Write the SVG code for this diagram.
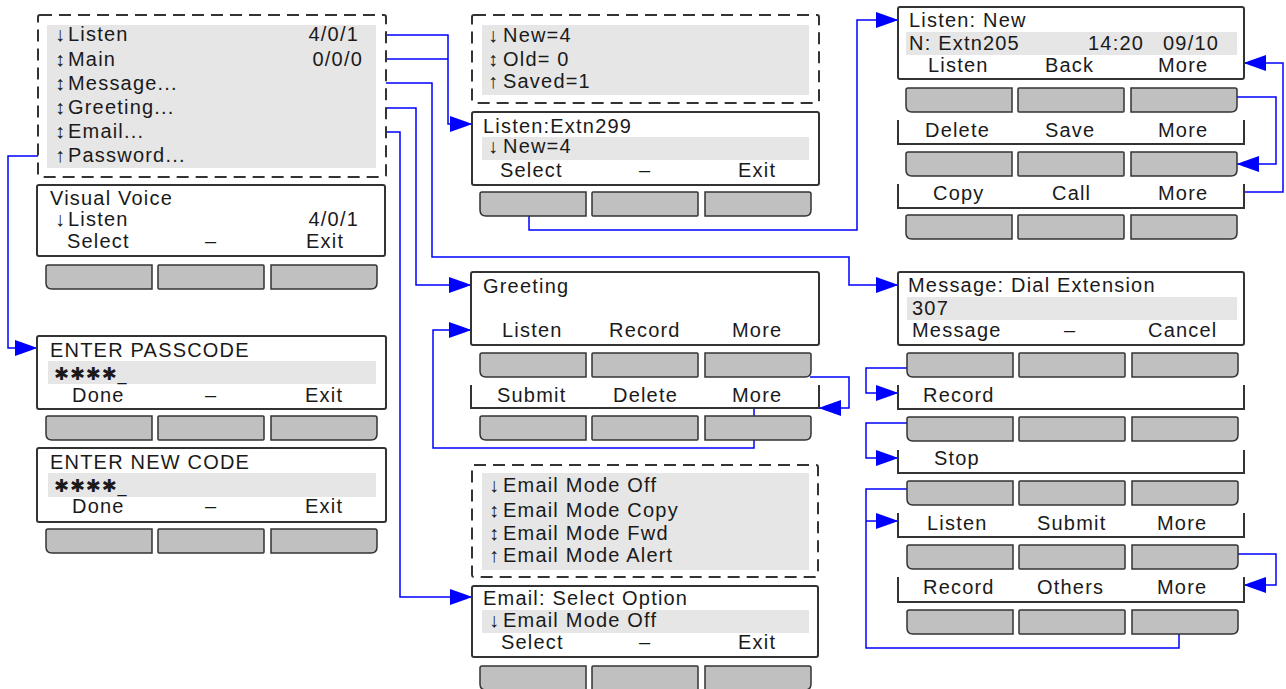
<svg xmlns="http://www.w3.org/2000/svg" xmlns:xlink="http://www.w3.org/1999/xlink" width="1286" height="689" viewBox="0 0 1286 689">
<defs>
<style>
.t{font-family:"Liberation Sans",Arial,"DejaVu Sans",sans-serif;font-size:20px;letter-spacing:1.2px;fill:#1a1a1a}
.st{font-family:"DejaVu Sans",sans-serif;font-size:18px;letter-spacing:0.8px;fill:#1a1a1a}
.scr{fill:#fff;stroke:#333;stroke-width:2}
.dash{fill:#fff;stroke:#333;stroke-width:2;stroke-dasharray:12 7}
.hl{fill:#e6e6e6;stroke:none}
.row{fill:none;stroke:#333;stroke-width:2}
.key{fill:#c0c0c0;stroke:#333;stroke-width:1.5}
.c{fill:none;stroke:#0000ff;stroke-width:1.5}
.ca{fill:none;stroke:#0000ff;stroke-width:1.5;marker-end:url(#arr)}
</style>
<marker id="arr" markerUnits="userSpaceOnUse" viewBox="0 0 22 16" markerWidth="22" markerHeight="16" refX="22" refY="8" orient="auto">
<path d="M0,0 L17,6 L22,8 L17,10 L0,16 Z" fill="#0000ff"/>
</marker>
<g id="keys">
<path class="key" d="M2,0 H106 V24 H6 Q0,24 0,18 V2 Q0,0 2,0 Z"/>
<rect class="key" x="112" y="0" width="106" height="24" rx="1"/>
<path class="key" d="M225,0 H329 Q331,0 331,2 V18 Q331,24 325,24 H225 Z"/>
</g>
</defs>
<rect width="1286" height="689" fill="#fff"/>

<g id="connectors">
<path class="ca" d="M376,35 H448 V124 H472"/>
<path class="c" d="M376,59 H448"/>
<path class="ca" d="M376,83 H432 V257 H849 V285 H898"/>
<path class="ca" d="M376,108 H416 V285 H471"/>
<path class="ca" d="M376,132 H400 V597 H472"/>
<path class="ca" d="M47,156 H8 V348 H37"/>
<path class="ca" d="M529,215 V230 H857 V20 H898"/>
<path class="ca" d="M1237,97 H1276 V164 H1237"/>
<path class="ca" d="M1244,192 H1283 V63 H1244"/>
<path class="ca" d="M810,377 H849 V408 H819"/>
<path class="ca" d="M754,408 V448 H433 V330 H471"/>
<path class="ca" d="M907,368 H866 V393 H898"/>
<path class="ca" d="M907,423 H866 V458 H898"/>
<path class="c" d="M907,489 H866 V648 H1179 V634"/>
<path class="ca" d="M866,521 H898"/>
<path class="ca" d="M1236,554 H1276 V585 H1244"/>
</g>

<g id="main-menu">
<rect class="dash" x="38" y="15" width="348" height="162" rx="2"/>
<rect class="hl" x="47" y="25" width="329" height="143"/>
<text class="t" x="55" y="41">↓<tspan x="68">Listen</tspan></text>
<text class="t" x="359" y="41" text-anchor="end">4/0/1</text>
<text class="t" x="55" y="66">↕<tspan x="68">Main</tspan></text>
<text class="t" x="363" y="66" text-anchor="end">0/0/0</text>
<text class="t" x="55" y="90">↕<tspan x="68">Message...</tspan></text>
<text class="t" x="55" y="114">↕<tspan x="68">Greeting...</tspan></text>
<text class="t" x="55" y="138">↕<tspan x="68">Email...</tspan></text>
<text class="t" x="55" y="162">↑<tspan x="68">Password...</tspan></text>
</g>

<g id="visual-voice">
<rect class="scr" x="37" y="185" width="348" height="71" rx="2"/>
<text class="t" x="50" y="205">Visual Voice</text>
<text class="t" x="55" y="226">↓<tspan x="68">Listen</tspan></text>
<text class="t" x="359" y="226" text-anchor="end">4/0/1</text>
<text class="t" x="67" y="248">Select</text>
<text class="t" x="205" y="248">–</text>
<text class="t" x="306" y="248">Exit</text>
<use xlink:href="#keys" x="46" y="265"/>
</g>

<g id="enter-passcode">
<rect class="scr" x="37" y="336" width="349" height="73" rx="2"/>
<text class="t" x="50" y="357">ENTER PASSCODE</text>
<rect class="hl" x="48" y="361" width="328" height="23"/>
<text class="st" x="54" y="380">✱✱✱✱_</text>
<text class="t" x="72" y="402">Done</text>
<text class="t" x="205" y="402">–</text>
<text class="t" x="305" y="402">Exit</text>
<use xlink:href="#keys" x="46" y="416"/>
</g>

<g id="enter-new-code">
<rect class="scr" x="37" y="448" width="349" height="74" rx="2"/>
<text class="t" x="50" y="469">ENTER NEW CODE</text>
<rect class="hl" x="48" y="473" width="328" height="24"/>
<text class="st" x="54" y="492">✱✱✱✱_</text>
<text class="t" x="72" y="513">Done</text>
<text class="t" x="205" y="513">–</text>
<text class="t" x="305" y="513">Exit</text>
<use xlink:href="#keys" x="46" y="529"/>
</g>

<g id="listen-options">
<rect class="dash" x="472" y="15" width="347" height="88" rx="2"/>
<rect class="hl" x="482" y="25" width="327" height="70"/>
<text class="t" x="488" y="42">↓<tspan x="503">New=4</tspan></text>
<text class="t" x="488" y="66">↕<tspan x="503">Old= 0</tspan></text>
<text class="t" x="488" y="88">↑<tspan x="503">Saved=1</tspan></text>
</g>

<g id="listen-extn299">
<rect class="scr" x="472" y="112" width="347" height="73" rx="2"/>
<text class="t" x="483" y="133">Listen:Extn299</text>
<rect class="hl" x="482" y="137" width="327" height="23"/>
<text class="t" x="488" y="153">↓<tspan x="503">New=4</tspan></text>
<text class="t" x="500" y="177">Select</text>
<text class="t" x="639" y="177">–</text>
<text class="t" x="738" y="177">Exit</text>
<use xlink:href="#keys" x="480" y="192"/>
</g>

<g id="greeting">
<rect class="scr" x="471" y="272" width="348" height="73" rx="2"/>
<text class="t" x="483" y="293">Greeting</text>
<text class="t" x="502" y="337">Listen</text>
<text class="t" x="609" y="337">Record</text>
<text class="t" x="732" y="337">More</text>
<use xlink:href="#keys" x="480" y="353"/>
<path class="row" d="M471,385 V408 H819 V385"/>
<text class="t" x="497" y="402">Submit</text>
<text class="t" x="613" y="402">Delete</text>
<text class="t" x="732" y="402">More</text>
<use xlink:href="#keys" x="480" y="416"/>
</g>

<g id="email-options">
<rect class="dash" x="472" y="465" width="346" height="112" rx="2"/>
<rect class="hl" x="482" y="473" width="327" height="97"/>
<text class="t" x="489" y="492">↓<tspan x="503">Email Mode Off</tspan></text>
<text class="t" x="489" y="517">↕<tspan x="503">Email Mode Copy</tspan></text>
<text class="t" x="489" y="540">↕<tspan x="503">Email Mode Fwd</tspan></text>
<text class="t" x="489" y="562">↑<tspan x="503">Email Mode Alert</tspan></text>
</g>

<g id="email-select">
<rect class="scr" x="472" y="586" width="346" height="71" rx="2"/>
<text class="t" x="483" y="605">Email: Select Option</text>
<rect class="hl" x="482" y="610" width="327" height="23"/>
<text class="t" x="489" y="627">↓<tspan x="503">Email Mode Off</tspan></text>
<text class="t" x="501" y="649">Select</text>
<text class="t" x="639" y="649">–</text>
<text class="t" x="738" y="649">Exit</text>
<use xlink:href="#keys" x="480" y="666"/>
</g>

<g id="listen-new">
<rect class="scr" x="898" y="7" width="346" height="72" rx="2"/>
<text class="t" x="909" y="27">Listen: New</text>
<rect class="hl" x="906" y="32" width="331" height="23"/>
<text class="t" x="909" y="50">N: Extn205</text>
<text class="t" x="1088" y="50">14:20</text>
<text class="t" x="1163" y="50">09/10</text>
<text class="t" x="928" y="72">Listen</text>
<text class="t" x="1045" y="72">Back</text>
<text class="t" x="1158" y="72">More</text>
<use xlink:href="#keys" x="906" y="88"/>
<path class="row" d="M898,120 V144 H1244 V120"/>
<text class="t" x="925" y="137">Delete</text>
<text class="t" x="1045" y="137">Save</text>
<text class="t" x="1158" y="137">More</text>
<use xlink:href="#keys" x="906" y="152"/>
<path class="row" d="M898,184 V208 H1244 V184"/>
<text class="t" x="933" y="200">Copy</text>
<text class="t" x="1052" y="200">Call</text>
<text class="t" x="1158" y="200">More</text>
<use xlink:href="#keys" x="906" y="215"/>
</g>

<g id="message-dial">
<rect class="scr" x="898" y="272" width="346" height="73" rx="2"/>
<text class="t" x="908" y="292">Message: Dial Extension</text>
<rect class="hl" x="907" y="297" width="330" height="23"/>
<text class="t" x="912" y="315">307</text>
<text class="t" x="912" y="337">Message</text>
<text class="t" x="1064" y="337">–</text>
<text class="t" x="1148" y="337">Cancel</text>
<use xlink:href="#keys" x="907" y="353"/>
<path class="row" d="M898,385 V409 H1244 V385"/>
<text class="t" x="923" y="402">Record</text>
<use xlink:href="#keys" x="907" y="417"/>
<path class="row" d="M898,450 V473 H1244 V450"/>
<text class="t" x="934" y="465">Stop</text>
<use xlink:href="#keys" x="907" y="481"/>
<path class="row" d="M898,513 V537 H1244 V513"/>
<text class="t" x="927" y="530">Listen</text>
<text class="t" x="1037" y="530">Submit</text>
<text class="t" x="1157" y="530">More</text>
<use xlink:href="#keys" x="907" y="545"/>
<path class="row" d="M898,577 V602 H1244 V577"/>
<text class="t" x="923" y="594">Record</text>
<text class="t" x="1037" y="594">Others</text>
<text class="t" x="1157" y="594">More</text>
<use xlink:href="#keys" x="907" y="610"/>
</g>
</svg>
